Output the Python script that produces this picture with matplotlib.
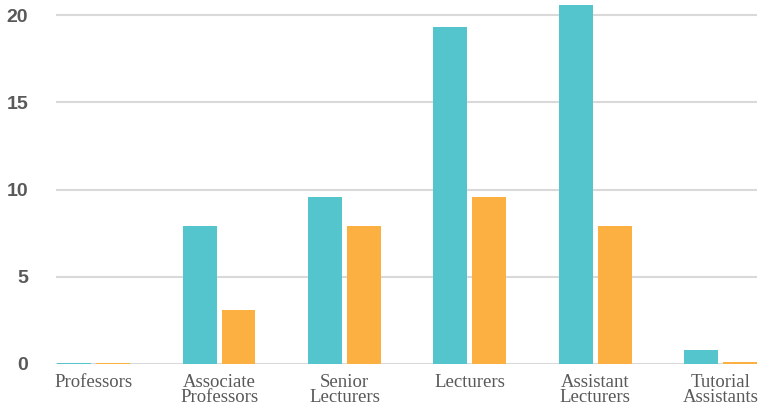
import numpy as np
import matplotlib.pyplot as plt

categories = ['Professors', 'Associate\nProfessors', 'Senior\nLecturers',
              'Lecturers', 'Assistant\nLecturers', 'Tutorial\nAssistants']
teal_vals = [0.05, 7.9, 9.55, 19.3, 20.6, 0.8]
orange_vals = [0.05, 3.1, 7.9, 9.55, 7.9, 0.1]
y_ticks = [0, 5, 10, 15, 20]

teal = '#55c5cd'
orange = '#fdb042'

fig = plt.figure(figsize=(7.71, 4.07), dpi=100)
ax = fig.add_axes([56/771, 43/407, 701/771, 364/407])

x = np.arange(len(categories))
w = 0.27
ax.bar(x - 0.155, teal_vals, width=w, color=teal, zorder=3)
ax.bar(x + 0.155, orange_vals, width=w, color=orange, zorder=3)

ax.set_xlim(-0.30, 5.29)
ax.set_ylim(0, 20.86)
ax.set_yticks(y_ticks)
ax.yaxis.grid(True, color='#d9d9d9', linewidth=1.5, zorder=0)
ax.axhline(0, color='#d9d9d9', linewidth=2, zorder=2)
for s in ax.spines.values():
    s.set_visible(False)
ax.tick_params(axis='both', length=0)
ax.tick_params(axis='y', pad=20)
for lab in ax.get_yticklabels():
    lab.set_fontfamily('Liberation Sans')
    lab.set_fontweight('bold')
    lab.set_fontsize(14)
    lab.set_color('#595959')

ax.set_xticks(x)
ax.set_xticklabels(categories, fontfamily='Liberation Serif', fontsize=13.5,
                   color='#595959', linespacing=0.9)
ax.tick_params(axis='x', pad=7)

fig.savefig('out.png', dpi=100)
